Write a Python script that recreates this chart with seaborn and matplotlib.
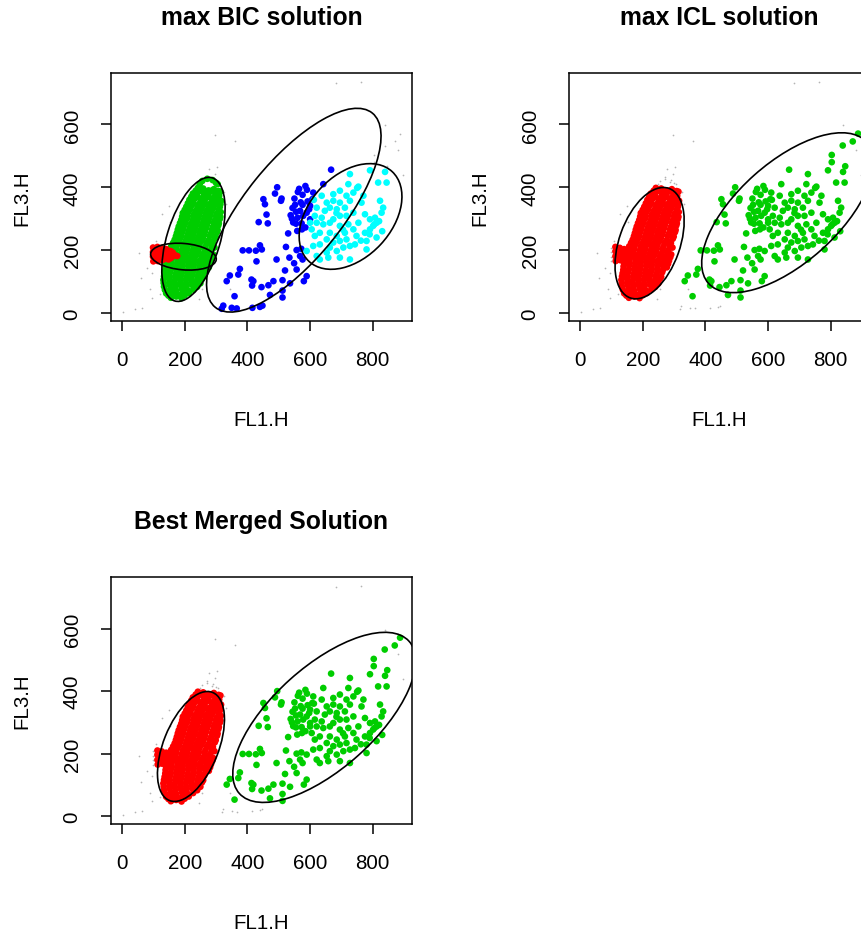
import matplotlib
matplotlib.use("Agg")
import matplotlib.pyplot as plt
import pandas as pd
import seaborn as sns
from matplotlib.patches import Ellipse

# ---------------- data (FL1.H / FL3.H units) ----------------
# BIC cluster "green" (dense left blob)
grn_x = [242, 259, 276, 293, 308,
         226, 244, 262, 280, 298, 314,
         215, 233, 251, 269, 287, 303, 316,
         205, 223, 241, 259, 277, 295, 312,
         194, 212, 230, 249, 267, 285, 302, 315,
         189, 207, 225, 243, 261, 279, 297, 312,
         181, 199, 217, 235, 253, 271, 290, 307,
         175, 193, 211, 229, 247, 265, 284, 303,
         168, 186, 204, 222, 240, 258, 277, 296,
         157, 175, 193, 211, 229, 247, 266, 285, 295,
         152, 170, 188, 206, 224, 242, 260, 278, 291,
         141, 159, 177, 195, 213, 231, 249, 267, 284,
         139, 157, 175, 193, 211, 229, 247, 264, 277,
         136, 154, 172, 190, 208, 226, 244, 262,
         132, 150, 168, 186, 204, 222, 240, 255,
         134, 152, 170, 188, 206, 224, 240,
         141, 159, 177, 195, 213,
         156, 173, 190,
         235, 252, 270, 288, 305,
         221, 240, 258, 276, 294, 310,
         210, 228, 246, 264, 282, 300, 314,
         200, 218, 236, 254, 272, 290, 308,
         192, 210, 228, 246, 264, 282, 300, 314,
         185, 203, 221, 239, 257, 275, 293, 309,
         178, 196, 214, 232, 250, 268, 287, 305,
         172, 190, 208, 226, 244, 262, 280, 299,
         163, 181, 199, 217, 235, 253, 271, 290,
         155, 173, 191, 209, 227, 245, 263, 282,
         147, 165, 183, 201, 219, 237, 255, 273, 288,
         140, 158, 176, 194, 212, 230, 248, 266, 281,
         138, 156, 174, 192, 210, 228, 246, 264,
         134, 152, 170, 188, 206, 224, 242, 259,
         133, 151, 169, 187, 205, 223, 241, 250,
         137, 155, 173, 191, 209, 227,
         148, 166, 184, 200]
grn_y = [398, 396, 390, 394, 388,
         380, 386, 378, 385, 380, 386,
         360, 365, 358, 366, 360, 364, 357,
         338, 343, 336, 342, 339, 344, 337,
         318, 322, 315, 320, 317, 323, 316, 321,
         296, 300, 294, 300, 297, 301, 295, 299,
         275, 279, 273, 278, 276, 280, 274, 278,
         254, 258, 252, 257, 255, 259, 253, 257,
         233, 237, 231, 236, 234, 238, 232, 236,
         212, 216, 210, 215, 213, 217, 211, 215, 208,
         190, 194, 188, 193, 191, 195, 189, 193, 186,
         169, 173, 167, 172, 170, 174, 168, 172, 166,
         148, 152, 146, 151, 149, 153, 147, 151, 145,
         126, 130, 124, 129, 127, 131, 125, 129,
         105, 109, 103, 108, 106, 110, 104, 108,
         84, 88, 82, 87, 85, 89, 83,
         62, 66, 60, 65, 63,
         48, 52, 47,
         389, 391, 387, 390, 386,
         370, 372, 368, 371, 369, 373,
         349, 351, 347, 352, 348, 350, 346,
         328, 330, 326, 331, 327, 332, 329,
         307, 309, 305, 310, 306, 311, 308, 306,
         286, 288, 284, 289, 285, 290, 287, 285,
         265, 267, 263, 268, 264, 269, 266, 264,
         244, 246, 242, 247, 243, 248, 245, 243,
         223, 225, 221, 226, 222, 227, 224, 222,
         201, 203, 199, 204, 200, 205, 202, 200,
         180, 182, 178, 183, 179, 184, 181, 179, 177,
         159, 161, 157, 162, 158, 163, 160, 158, 156,
         137, 139, 135, 140, 136, 141, 138, 136,
         116, 118, 114, 119, 115, 120, 117, 115,
         95, 97, 93, 98, 94, 99, 96, 94,
         73, 75, 71, 76, 72, 74,
         55, 57, 54, 56]
# sparse top of the green blob (only classified in the BIC model)
grn_top_x = [256, 272, 289, 300, 248, 305]
grn_top_y = [420, 427, 423, 414, 410, 410]

# BIC cluster "red" (small triangular blob on the left)
red_x = [113, 127, 141, 155, 113, 127, 141, 155, 168, 176, 113, 127, 141, 155, 114, 128,
         120, 134, 148, 162, 120, 134, 148, 162, 120, 134, 148]
red_y = [210, 207, 203, 197, 196, 193, 190, 187, 184, 181, 180, 177, 175, 174, 165, 168,
         202, 200, 197, 192, 188, 185, 182, 180, 172, 171, 170]
# left edge of the red blob (only classified in the BIC model)
red_edge_x = [99, 99, 99, 100, 106, 106, 106]
red_edge_y = [208, 194, 179, 164, 201, 186, 171]

# BIC cluster "blue"
blu_x = [667, 642, 495, 488, 509, 507, 451, 456, 461, 436, 465, 561, 585, 576, 550, 552, 576, 568, 544,
         538, 560, 573, 555, 546, 530, 559, 574, 610, 607, 600, 589, 578, 523, 557, 568, 572, 534, 549,
         557, 576, 385, 405, 427, 440, 446, 429, 493, 520, 376, 371, 344, 334, 413, 419, 415, 445, 467,
         483, 512, 536, 580, 589, 359, 472, 512, 512, 565, 590, 570, 592, 555, 597, 542, 585, 600]
blu_y = [456, 410, 400, 380, 364, 357, 362, 346, 313, 289, 285, 385, 404, 376, 364, 344, 344, 325, 334,
         311, 303, 285, 284, 288, 253, 261, 266, 383, 362, 341, 319, 309, 210, 200, 181, 204, 176, 158,
         138, 170, 199, 199, 198, 215, 202, 164, 170, 135, 140, 122, 119, 101, 106, 101, 87, 82, 88,
         101, 104, 94, 101, 117, 53, 57, 71, 49, 395, 392, 352, 355, 322, 330, 300, 272, 298]
# lowest blue points (only classified in the BIC model)
blu_low_x = [323, 318, 350, 366, 416, 440, 448]
blu_low_y = [23, 13, 16, 14, 16, 19, 23]

# BIC cluster "cyan"
cyn_x = [791, 839, 727, 817, 844, 722, 754, 695, 674, 716, 738, 770, 637, 612, 653, 674, 695, 727, 764,
         823, 833, 828, 621, 647, 663, 685, 711, 738, 695, 674, 716, 775, 791, 807, 812, 801, 637, 615,
         600, 621, 642, 663, 695, 722, 754, 738, 711, 685, 663, 631, 605, 615, 653, 674, 695, 716, 748,
         775, 791, 812, 780, 631, 610, 663, 685, 706, 727, 743, 780, 653, 621, 631, 658, 695, 727, 589,
         820, 805, 790, 762, 705, 684, 750, 830]
cyn_y = [454, 449, 442, 415, 415, 410, 402, 389, 378, 373, 383, 373, 373, 360, 351, 357, 351, 357, 351,
         357, 335, 319, 335, 325, 335, 330, 335, 319, 309, 298, 309, 314, 298, 303, 287, 277, 303, 309,
         287, 287, 282, 287, 277, 282, 287, 266, 255, 245, 255, 255, 266, 245, 234, 224, 229, 234, 245,
         255, 266, 240, 229, 218, 213, 208, 197, 208, 213, 218, 202, 192, 181, 170, 176, 176, 170, 197,
         292, 282, 250, 230, 265, 318, 398, 260]

# upper-right points: classified only by the ICL / merged solutions
top_right_x = [870, 838, 803, 803, 846, 887]
top_right_y = [546, 533, 503, 480, 467, 571]

# tiny grey points (unclassified observations)
noise_x = [684, 761, 840, 296, 360, 277, 303, 271, 298, 287, 311, 324, 332, 128, 149, 154, 53, 80, 96, 90,
           96, 64, 2, 43, 149, 191, 255, 340, 346, 245, 454, 60, 110, 120, 880, 895]
noise_y = [732, 735, 597, 567, 546, 458, 464, 432, 442, 416, 389, 384, 347, 314, 341, 288, 192, 144, 128, 75,
           48, 16, 3, 13, 43, 59, 75, 117, 75, 43, 352, 110, 230, 60, 520, 440]

# ellipses: (centre x, centre y, semi-axis a, semi-axis b, angle in degrees)
bic_ellipses = [(228, 234, 205, 85, 73), (196, 179, 105, 42, -5),
                (548, 327, 398, 156, 51), (729, 307, 195, 131, 47)]
icl_ellipses = [(222, 222, 185, 97, 70.5), (662, 319, 338, 160, 41.7)]
merged_ellipses = [(220, 223, 186, 88, 68.3), (645, 316, 364, 163, 42)]

x_ticks = [0, 200, 400, 600, 800]
y_ticks = [0, 200, 400, 600]
titles = ["max BIC solution", "max ICL solution", "Best Merged Solution"]

# ---------------- tables ----------------
def frame(xs, ys, label):
    return pd.DataFrame({"x": xs, "y": ys, "cls": label})

bic_df = pd.concat([frame(grn_x + grn_top_x, grn_y + grn_top_y, "green"),
                    frame(blu_x + blu_low_x, blu_y + blu_low_y, "blue"),
                    frame(cyn_x, cyn_y, "cyan"),
                    frame(red_x + red_edge_x, red_y + red_edge_y, "red")], ignore_index=True)
bic_noise = frame(noise_x + top_right_x, noise_y + top_right_y, "noise")

two_df = pd.concat([frame(grn_x + red_x, grn_y + red_y, "red"),
                    frame(blu_x + cyn_x + top_right_x, blu_y + cyn_y + top_right_y, "green")],
                   ignore_index=True)
two_noise = frame(noise_x + blu_low_x + grn_top_x + red_edge_x,
                  noise_y + blu_low_y + grn_top_y + red_edge_y, "noise")

palette = {"red": "#FF0000", "green": "#00CD00", "blue": "#0000FF", "cyan": "#00FFFF"}

# ---------------- style ----------------
sns.set_style("white")
plt.rcParams["font.family"] = ["Liberation Sans", "DejaVu Sans"]
for k in ["text.color", "axes.labelcolor", "xtick.color", "ytick.color", "axes.edgecolor"]:
    plt.rcParams[k] = "black"

W, H = 861, 937
fig = plt.figure(figsize=(W / 100, H / 100), dpi=100)


def add_ax(left, top, w, h):
    return fig.add_axes([left / W, 1 - (top + h) / H, w / W, h / H])


def panel(ax, df, noise, ellipses, title):
    sns.scatterplot(data=noise, x="x", y="y", ax=ax, s=1.5, color="#b4b4b4",
                    linewidth=0, legend=False)
    sns.scatterplot(data=df, x="x", y="y", hue="cls", palette=palette, ax=ax,
                    s=23, linewidth=0, legend=False)
    for cx, cy, a, b, ang in ellipses:
        ax.add_patch(Ellipse((cx, cy), 2 * a, 2 * b, angle=ang, fill=False,
                             edgecolor="black", linewidth=1.2))
    ax.set_xlim(-36, 925)
    ax.set_ylim(-25, 764)
    ax.set_xticks(x_ticks)
    ax.set_yticks(y_ticks)
    for sp in ax.spines.values():
        sp.set_visible(True)
        sp.set_linewidth(1.1)
        sp.set_color("black")
    ax.tick_params(axis="both", direction="out", length=7, width=1.1,
                   labelsize=14.8, pad=14, bottom=True, left=True)
    ax.tick_params(axis="y", labelrotation=90)
    for lab in ax.get_yticklabels():
        lab.set_va("center")
    ax.set_xlabel("FL1.H", fontsize=14.8, va="center")
    ax.set_ylabel("FL3.H", fontsize=14.8, va="center")
    ax.xaxis.set_label_coords(0.5, -0.40)
    ax.yaxis.set_label_coords(-0.294, 0.5)
    ax.text(0.5, 1.227, title, transform=ax.transAxes, ha="center", va="center",
            fontsize=17.8, fontweight="bold")


ax1 = add_ax(110.7, 74, 301.3, 247.7)
ax2 = add_ax(568.7, 74, 301.3, 247.7)
ax3 = add_ax(110.7, 578.3, 301.3, 246.7)

panel(ax1, bic_df, bic_noise, bic_ellipses, titles[0])
panel(ax2, two_df, two_noise, icl_ellipses, titles[1])
panel(ax3, two_df, two_noise, merged_ellipses, titles[2])

fig.savefig("out.png", dpi=100)
